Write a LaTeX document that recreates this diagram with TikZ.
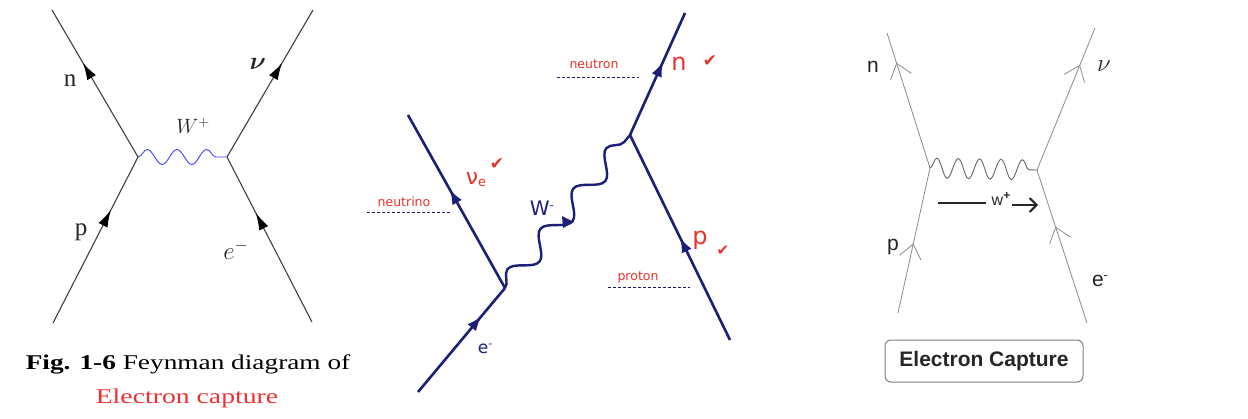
\documentclass[tikz,border=0pt]{standalone}
\usepackage{amsmath}
\usepackage{fontspec}
\setmainfont{Liberation Serif}
\newfontfamily\comicf{DejaVu Sans}
\newfontfamily\arialf{Liberation Sans}
\usetikzlibrary{decorations.pathmorphing,decorations.markings,arrows.meta}
\definecolor{navy}{HTML}{1C1F78}
\definecolor{lred}{HTML}{E8322E}
\definecolor{capred}{HTML}{F03030}
\begin{document}
\begin{tikzpicture}[x=1pt,y=-1pt,
  fermL/.style={draw=black!75,line width=1.1pt},
  fermM/.style={draw=navy,line width=2.6pt},
  fermR/.style={draw=black!45,line width=0.8pt},
  arrL/.style={postaction={decorate,decoration={markings,mark=at position #1 with {\arrow[black]{Latex[length=17pt,width=10pt]}}}}},
  arrM/.style={postaction={decorate,decoration={markings,mark=at position #1 with {\arrow[fill=navy]{Latex[length=15pt,width=11pt]}}}}},
  arrR/.style={postaction={decorate,decoration={markings,mark=at position #1 with {\arrow{Straight Barb[length=14pt,width=22pt,line width=0.8pt]}}}}},
  lblL/.style={font=\fontsize{25}{25}\selectfont,text=black!85,inner sep=0pt},
  lblM/.style={font=\comicf\fontsize{24}{24}\selectfont,text=lred,inner sep=0pt},
  chk/.style={font=\comicf\fontsize{17}{17}\selectfont,text=lred,inner sep=0pt},
  smallM/.style={font=\comicf\fontsize{12.5}{12.5}\selectfont,text=lred,inner sep=0pt},
  dashM/.style={draw=navy!80!black,line width=0.9pt,dash pattern=on 3pt off 2pt},
  lblR/.style={font=\arialf\fontsize{21}{21}\selectfont,text=black!85,inner sep=0pt}
]
\useasboundingbox (0,0) rectangle (1248,418);
\fill[white] (0,0) rectangle (1248,418);

% ---------- left panel ----------
\coordinate (L1) at (138,157);
\coordinate (L2) at (227,157);
\coordinate (Ln) at (52,10);
\coordinate (Lp) at (53,323);
\coordinate (Lv) at (313,10);
\coordinate (Le) at (312,322);
\draw[fermL,arrL=0.64] (L1) -- (Ln);
\draw[fermL,arrL=0.68] (Lp) -- (L1);
\draw[fermL,arrL=0.64] (L2) -- (Lv);
\draw[fermL,arrL=0.66] (Le) -- (L2);
\draw[blue!75,line width=0.9pt,decorate,decoration={snake,amplitude=7.5pt,segment length=29.7pt}] (L1) -- (L2);
\node[lblL] (ln) at (70,81) {n};
\node[lblL] (lv) at (258,64) {\fontsize{28}{28}\selectfont$\boldsymbol{\nu}$};
\node[lblL] (lw) at (193,126) {\fontsize{20}{20}\selectfont$W^{+}$};
\node[lblL] (lp) at (81,232) {p};
\node[lblL] (le) at (236,250) {$e^{-}$};
\node[inner sep=0pt] (cap1) at (188,364) {\scalebox{1.3}[1]{\fontsize{21}{21}\selectfont\textbf{Fig. 1-6} Feynman diagram of}};
\node[inner sep=0pt,text=capred] (cap2) at (187,398) {\scalebox{1.32}[1]{\fontsize{21}{21}\selectfont Electron capture}};

% ---------- middle panel ----------
\coordinate (A) at (505,288);
\coordinate (B) at (630,135);
\coordinate (Mnu) at (408,115);
\coordinate (Me) at (418,392);
\coordinate (Mn) at (685,13);
\coordinate (Mp) at (730,340);
\draw[fermM,arrM=0.57] (A) -- (Mnu);
\draw[fermM,arrM=0.73] (Me) -- (A);
\draw[fermM,arrM=0.60] (B) -- (Mn);
\draw[fermM,arrM=0.50] (Mp) -- (B);
\draw[navy,line width=2.4pt,decorate,decoration={snake,amplitude=10pt,segment length=52pt}] (A) -- (B);
\fill[navy] (574,222) -- (562,216) -- (563,228) -- cycle;
\node[lblM] (mn) at (679,64) {n};
\node[chk] (mnc) at (710,61) {✔};
\node[lblM] (mnu) at (476,180) {\fontsize{22}{22}\selectfont ν\raisebox{-2pt}{\fontsize{13}{13}\selectfont e}};
\node[chk] (mnuc) at (497,164) {✔};
\node[lblM] (mp) at (700,240) {p};
\node[chk] (mpc) at (723,251) {\fontsize{15}{15}\selectfont ✔};
\node[lblM,text=navy] (mw) at (542,208) {\fontsize{20}{20}\selectfont W\raisebox{6pt}{\fontsize{12}{12}\selectfont -}};
\node[lblM,text=navy] (me) at (485,349) {\fontsize{17}{17}\selectfont e\raisebox{6pt}{\fontsize{11}{11}\selectfont -}};
\node[smallM] (tneutron) at (594,64) {neutron};
\node[smallM] (tneutrino) at (404,202) {neutrino};
\node[smallM] (tproton) at (638,277) {proton};
\coordinate (d1a) at (557,77); \coordinate (d1b) at (639,77);
\coordinate (d2a) at (367,212); \coordinate (d2b) at (452,212);
\coordinate (d3a) at (608,287); \coordinate (d3b) at (690,287);
\draw[dashM] (d1a) -- (d1b);
\draw[dashM] (d2a) -- (d2b);
\draw[dashM] (d3a) -- (d3b);

% ---------- right panel ----------
\coordinate (C) at (930,168);
\coordinate (D) at (1037,170);
\coordinate (Rn) at (887,33);
\coordinate (Rp) at (898,313);
\coordinate (Rv) at (1095,28);
\coordinate (Re) at (1087,323);
\draw[fermR,arrR=0.78] (C) -- (Rn);
\draw[fermR,arrR=0.48] (Rp) -- (C);
\draw[fermR,arrR=0.74] (D) -- (Rv);
\draw[fermR,arrR=0.63] (Re) -- (D);
\draw[black!60,line width=0.9pt,decorate,decoration={snake,amplitude=10pt,segment length=21.4pt}] (C) -- (D);
\node[lblR] (rn) at (873,67) {n};
\node[lblR] (rv) at (1104,66) {\fontsize{24}{24}\selectfont$\nu$};
\node[lblR] (rp) at (893,247) {p};
\node[lblR] (re) at (1100,281) {e\raisebox{7pt}{\fontsize{13}{13}\selectfont -}};
\coordinate (wa) at (938,203);
\coordinate (wb) at (986,203);
\draw[black!85,line width=1.8pt] (wa) -- (wb);
\node[lblR] (rw) at (1001,199) {\fontsize{16}{16}\selectfont w\raisebox{6pt}{\fontsize{12}{12}\selectfont\bfseries +}};
\coordinate (wc) at (1012,205);
\coordinate (wd) at (1038,205);
\draw[black!85,line width=2pt,-{Straight Barb[length=7pt,width=14pt,line width=2pt]}] (wc) -- (wd);
\node[draw=black!50,line width=1pt,rounded corners=6pt,minimum width=198pt,minimum height=42pt,inner sep=0pt,font=\arialf\bfseries\fontsize{21}{21}\selectfont,text=black!85] (box) at (984,361) {Electron Capture};
\end{tikzpicture}
\end{document}
